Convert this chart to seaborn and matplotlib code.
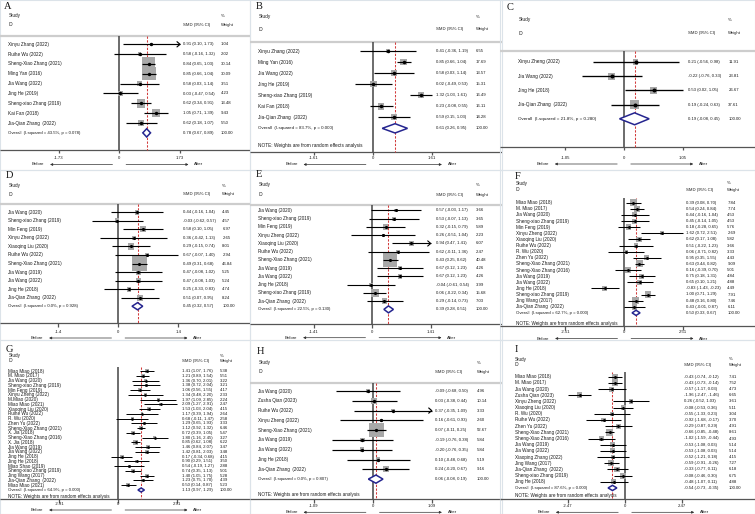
import numpy as np
import pandas as pd
import matplotlib
matplotlib.use("Agg")
import matplotlib.pyplot as plt
from matplotlib.patches import Rectangle
import seaborn as sns

# ------------------------------------------------------------------ data
A_study = ["Xinyu Zhang (2022)", "Ruihe Wu (2022)", "Sheng-Xiao Zhang (2021)", "Ming Yan (2016)",
           "Jia Wang (2022)", "Jing He (2019)", "Sheng-xiao Zhang (2019)", "Kai Fan (2018)",
           "Jia-Qian Zhang  (2022)"]
A_est = [0.91, 0.58, 0.84, 0.85, 0.58, 0.03, 0.62, 1.05, 0.62]
A_lo = [0.10, -0.16, 0.65, 0.66, 0.03, -0.47, 0.34, 0.71, 0.18]
A_hi = [1.73, 1.32, 1.03, 1.04, 1.14, 0.54, 0.91, 1.39, 1.07]
A_wt = [1.04, 2.02, 30.14, 30.09, 3.51, 4.23, 13.48, 9.43, 5.50]
A_overall = [0.78, 0.67, 0.89]
A_het = ["43.5%", "0.078"]
A_tick = 1.73

B_study = ["Xinyu Zhang (2022)", "Ming Yan (2016)", "Jia Wang (2022)", "Jing He (2019)",
           "Sheng-xiao Zhang (2019)", "Kai Fan (2018)", "Jia-Qian Zhang  (2022)"]
B_est = [0.41, 0.85, 0.58, 0.02, 1.32, 0.23, 0.59]
B_lo = [-0.36, 0.66, 0.03, -0.49, 1.03, -0.08, 0.15]
B_hi = [1.19, 1.04, 1.14, 0.53, 1.61, 0.55, 1.03]
B_wt = [6.55, 17.69, 13.57, 15.31, 16.49, 16.11, 14.28]
B_overall = [0.61, 0.26, 0.95]
B_het = ["83.7%", "0.000"]
B_tick = 1.61

C_study = ["Xinyu Zheng (2022)", "Jia Wang (2022)", "Jing He (2018)", "Jia-Qian Zhang  (2022)"]
C_est = [0.21, -0.22, 0.53, 0.19]
C_lo = [-0.56, -0.76, 0.02, -0.24]
C_hi = [0.98, 0.33, 1.05, 0.63]
C_wt = [11.91, 23.81, 26.67, 37.61]
C_overall = [0.19, -0.08, 0.45]
C_het = ["21.8%", "0.280"]
C_tick = 1.05

D_study = ["Jia Wang (2020)", "Sheng-xiao Zhang (2019)", "Min Feng (2019)", "Xinyu Zheng (2022)",
           "Xiaoqing Liu (2020)", "Ruihe Wu (2022)", "Sheng-Xiao Zhang (2021)", "Jia Wang (2019)",
           "Jia Wang (2022)", "Jing He (2018)", "Jia-Qian Zhang  (2022)"]
D_est = [0.44, -0.03, 0.58, 0.36, 0.29, 0.67, 0.49, 0.47, 0.47, 0.25, 0.51]
D_lo = [-0.16, -0.62, 0.10, -0.42, -0.15, -0.07, 0.31, -0.08, -0.08, -0.33, 0.07]
D_hi = [1.04, 0.57, 1.05, 1.13, 0.74, 1.40, 0.68, 1.02, 1.03, 0.83, 0.95]
D_wt = [4.45, 4.57, 6.97, 2.65, 8.01, 2.94, 46.84, 5.25, 5.24, 4.74, 8.24]
D_overall = [0.45, 0.32, 0.57]
D_het = ["0.0%", "0.928"]
D_tick = 1.4

E_study = ["Jia Wang (2020)", "Sheng-xiao Zhang (2019)", "Min Feng (2019)", "Xinyu Zheng (2022)",
           "Xiaoqing Liu (2020)", "Ruihe Wu (2022)", "Sheng-Xiao Zhang (2021)", "Jia Wang (2019)",
           "Jia Wang (2022)", "Jing He (2018)", "Sheng-xiao Zhang (2019)", "Jia-Qian Zhang  (2022)"]
E_est = [0.57, 0.53, 0.32, 0.26, 0.94, 0.62, 0.43, 0.67, 0.67, -0.04, 0.06, 0.29]
E_lo = [-0.03, -0.07, -0.15, -0.51, 0.47, -0.11, 0.25, 0.12, 0.12, -0.61, -0.22, -0.14]
E_hi = [1.17, 1.13, 0.79, 1.04, 1.41, 1.36, 0.62, 1.23, 1.23, 0.54, 0.34, 0.73]
E_wt = [3.66, 3.65, 5.89, 2.23, 6.07, 2.47, 40.48, 4.26, 4.26, 3.99, 15.68, 7.03]
E_overall = [0.39, 0.28, 0.51]
E_het = ["22.5%", "0.130"]
E_tick = 1.41

F_study = ["Miao Miao (2018)", "M. Miao (2017)", "Jia Wang (2020)", "Sheng-xiao Zhang (2019)",
           "Min Feng (2019)", "Xinyu Zheng (2022)", "Xiaoqing Liu (2020)", "Ruihe Wu (2022)",
           "R. Wu (2020)", "Zhen Yu (2022)", "Sheng-Xiao Zhang (2021)", "Sheng-Xiao Zhang (2016)",
           "Jia Wang (2019)", "Jia Wang (2022)", "Jing He (2018)", "Sheng-xiao Zhang (2019)",
           "Jing Wang (2017)", "Jia-Qian Zhang  (2022)"]
F_est = [0.39, 0.54, 0.44, 0.45, 0.18, 1.62, 0.62, 0.51, 0.06, 0.95, 0.63, 0.16, 0.75, 0.65,
         -0.83, 1.00, 0.48, 0.43]
F_lo = [0.08, 0.24, -0.16, -0.14, -0.28, 0.72, 0.17, -0.22, -0.71, 0.35, 0.44, -0.39, 0.18, 0.10,
        -1.43, 0.71, 0.16, -0.01]
F_hi = [0.70, 0.84, 1.04, 1.05, 0.65, 2.51, 1.08, 1.23, 0.82, 1.55, 0.82, 0.70, 1.31, 1.21,
        -0.23, 1.29, 0.80, 0.87]
F_wt = [7.84, 7.74, 4.53, 4.53, 5.76, 2.69, 5.82, 3.66, 3.33, 4.43, 9.09, 5.01, 4.84, 4.88,
        4.49, 7.91, 7.46, 6.11]
F_overall = [0.50, 0.33, 0.67]
F_het = ["62.7%", "0.000"]
F_tick = 2.51

G_study = ["Miao Miao (2018)", "M. Miao (2017)", "Jia Wang (2020)", "Sheng-xiao Zhang (2019)",
           "Min Feng (2019)", "Xinyu Zheng (2022)", "M.Miao (2020)", "Miao Miao (2021)",
           "Xiaoqing Liu (2020)", "Ruihe Wu (2022)", "R. Wu (2020)", "Zhen Yu (2022)",
           "Sheng-Xiao Zhang (2021)", "X. Jia (2018)", "Sheng-Xiao Zhang (2016)", "X. Jia (2018)",
           "Jia Wang (2019)", "Jia Wang (2022)", "Jing He (2018)", "Jing He (2018)",
           "Miao Shao (2019)", "Sheng-xiao Zhang (2019)", "Jing Wang (2017)",
           "Jia-Qian Zhang  (2022)", "Miao Miao (2021)"]
G_est = [1.41, 1.21, 1.36, 1.38, 1.06, 1.34, 1.97, 2.09, 1.53, 1.17, 0.68, 1.29, 1.12, 0.72,
         1.80, 0.85, 1.46, 1.42, 0.17, 0.90, 0.54, 0.74, 1.40, 1.23, 0.50]
G_lo = [1.07, 0.89, 0.70, 0.72, 0.56, 0.48, 1.09, 1.27, 1.03, 0.39, -0.11, 0.65, 0.92, 0.39,
        1.16, 0.62, 0.84, 0.81, -0.34, 0.29, -0.19, 0.35, 1.05, 0.75, 0.14]
G_hi = [1.76, 1.54, 2.01, 2.04, 1.55, 2.20, 2.85, 2.91, 2.04, 1.94, 1.47, 1.93, 1.32, 1.05,
        2.45, 1.08, 2.07, 2.03, 0.68, 1.51, 1.27, 1.13, 1.75, 1.70, 0.87]
G_wt = [5.38, 5.51, 3.22, 3.21, 4.17, 2.33, 2.24, 2.47, 4.15, 2.64, 2.58, 3.33, 6.46, 5.47,
        3.27, 6.22, 3.47, 3.48, 4.15, 3.50, 2.88, 5.01, 5.28, 4.39, 5.23]
G_overall = [1.13, 0.97, 1.29]
G_het = ["64.9%", "0.000"]
G_tick = 2.91

H_study = ["Jia Wang (2020)", "Zusha Qian (2023)", "Ruihe Wu (2022)", "Xinyu Zheng (2022)",
           "Sheng-Xiao Zhang (2021)", "Jia Wang (2019)", "Jia Wang (2022)", "Jing He (2018)",
           "Jia-Qian Zhang  (2022)"]
H_est = [-0.09, 0.03, 0.37, 0.16, 0.07, -0.19, -0.20, 0.10, 0.24]
H_lo = [-0.68, -0.38, -0.35, -0.61, -0.11, -0.76, -0.76, -0.48, -0.20]
H_hi = [0.50, 0.44, 1.09, 0.93, 0.25, 0.38, 0.35, 0.68, 0.67]
H_wt = [4.96, 10.14, 3.33, 2.60, 52.67, 5.84, 5.84, 5.19, 9.16]
H_overall = [0.06, -0.08, 0.19]
H_het = ["0.0%", "0.807"]
H_tick = 1.09

I_study = ["Miao Miao (2018)", "M. Miao (2017)", "Jia Wang (2020)", "Zusha Qian (2023)",
           "Xinyu Zheng (2022)", "Xiaoqing Liu (2020)", "R. Wu (2020)", "Ruihe Wu (2022)",
           "Zhen Yu (2022)", "Sheng-Xiao Zhang (2021)", "Sheng-Xiao Zhang (2016)",
           "Jia Wang (2019)", "Jia Wang (2022)", "Xiaoping Zhang (2022)", "Jing Wang (2017)",
           "Jia-Qian Zhang  (2022)", "Sheng-xiao Zhang (2019)", "Jing He (2018)"]
I_est = [-0.43, -0.43, -0.57, -1.96, 0.26, -0.08, -0.55, -0.92, -0.29, -0.66, -1.02, -0.53,
         -0.53, -0.52, -0.59, -0.33, -0.08, -0.48]
I_lo = [-0.74, -0.73, -1.17, -2.47, -0.52, -0.53, -1.33, -1.68, -0.87, -0.85, -1.59, -1.08,
        -1.08, -1.21, -0.91, -0.77, -0.46, -1.07]
I_hi = [-0.12, -0.14, 0.03, -1.46, 1.03, 0.36, 0.23, -0.17, 0.29, -0.48, -0.44, 0.03, 0.03,
        0.18, -0.26, 0.11, 0.30, 0.11]
I_wt = [7.41, 7.52, 4.73, 6.65, 3.61, 5.11, 3.04, 3.70, 4.91, 8.61, 4.93, 5.14, 5.14, 4.15,
        7.27, 6.18, 6.75, 4.88]
I_overall = [-0.54, -0.73, -0.35]
I_het = ["87.6%", "0.000"]
I_tick = 2.47

NOTE_TEXT = "NOTE: Weights are from random effects analysis"

PANELS = [
    ("A", A_study, A_est, A_lo, A_hi, A_wt, A_overall, A_het, A_tick, False, [0]),
    ("B", B_study, B_est, B_lo, B_hi, B_wt, B_overall, B_het, B_tick, True, []),
    ("C", C_study, C_est, C_lo, C_hi, C_wt, C_overall, C_het, C_tick, False, []),
    ("D", D_study, D_est, D_lo, D_hi, D_wt, D_overall, D_het, D_tick, False, []),
    ("E", E_study, E_est, E_lo, E_hi, E_wt, E_overall, E_het, E_tick, False, [4]),
    ("F", F_study, F_est, F_lo, F_hi, F_wt, F_overall, F_het, F_tick, True, []),
    ("G", G_study, G_est, G_lo, G_hi, G_wt, G_overall, G_het, G_tick, True, []),
    ("H", H_study, H_est, H_lo, H_hi, H_wt, H_overall, H_het, H_tick, True, [2]),
    ("I", I_study, I_est, I_lo, I_hi, I_wt, I_overall, I_het, I_tick, True, []),
]

# ------------------------------------------------------------------ layout (pixels, panel-local)
LAYOUT = {
    "A": dict(x0=0, y0=0, w=250, h=170, zero=119.3, tickpx=180.0, letter=(3.5, 6.5), study_y=15.7,
              id_y=25, hline=35.7, top=35.7, row0=44.3, dy=9.84, note_y=None, axis_y=150, tl_y=158,
              ba_y=164.5, lab_x=8.3, ci_x=182.7, w_x=221, k=2.42, dot=3.4, lw=0.85, fs=3.3),
    "B": dict(x0=250, y0=0, w=252, h=170, zero=122.7, tickpx=181.7, letter=(6, 6.5), study_y=16.7,
              id_y=29.3, hline=41.7, top=41.7, row0=51, dy=11.05, note_y=145.7, axis_y=151.7, tl_y=158,
              ba_y=164.5, lab_x=8.3, ci_x=185.7, w_x=226, k=1.62, dot=3.5, lw=0.85, fs=3.4),
    "C": dict(x0=500, y0=0, w=255, h=170, zero=124.0, tickpx=182.7, letter=(6.7, 7.5), study_y=20,
              id_y=33.3, hline=51, top=51, row0=62, dy=14.2, note_y=None, axis_y=146.7, tl_y=157.7,
              ba_y=164, lab_x=18.3, ci_x=188.3, w_x=228.3, k=1.45, dot=4.0, lw=0.95, fs=3.45),
    "D": dict(x0=0, y0=170, w=250, h=170, zero=118.3, tickpx=178.3, letter=(6, 5.5), study_y=15.7,
              id_y=24.3, hline=34.3, top=34.3, row0=42.3, dy=8.54, note_y=None, axis_y=153.3, tl_y=161.7,
              ba_y=168, lab_x=8.3, ci_x=182.7, w_x=222.3, k=2.19, dot=3.1, lw=0.8, fs=3.3),
    "E": dict(x0=250, y0=170, w=252, h=170, zero=122.3, tickpx=180.7, letter=(6, 4.5), study_y=15,
              id_y=25, hline=35, top=35, row0=40.5, dy=8.24, note_y=None, axis_y=154, tl_y=161.7,
              ba_y=167.7, lab_x=8.3, ci_x=185.7, w_x=226, k=2.09, dot=3.1, lw=0.8, fs=3.3),
    "F": dict(x0=500, y0=170, w=255, h=170, zero=124.3, tickpx=183.3, letter=(15, 6.5), study_y=13.3,
              id_y=20, hline=None, top=28, row0=32.7, dy=6.12, note_y=153.3, axis_y=156, tl_y=162.3,
              ba_y=168.5, lab_x=15.7, ci_x=186, w_x=227.3, k=2.3, dot=2.9, lw=0.75, fs=3.3),
    "G": dict(x0=0, y0=340, w=250, h=174, zero=118.3, tickpx=177.2, letter=(6, 10), study_y=15.7,
              id_y=21, hline=None, top=26.7, row0=31, dy=4.76, note_y=156.7, axis_y=159.3, tl_y=164,
              ba_y=170, lab_x=8.3, ci_x=181.7, w_x=220, k=1.8, dot=2.7, lw=0.7, fs=3.3),
    "H": dict(x0=250, y0=340, w=252, h=174, zero=122.7, tickpx=181.7, letter=(6.7, 11.7), study_y=22.7,
              id_y=31.7, hline=42.7, top=42.7, row0=51, dy=9.79, note_y=154.3, axis_y=159.3, tl_y=165.7,
              ba_y=172.3, lab_x=8.3, ci_x=185, w_x=226.7, k=1.95, dot=3.3, lw=0.85, fs=3.3),
    "I": dict(x0=500, y0=340, w=255, h=174, zero=125.0, tickpx=182.3, letter=(15, 10), study_y=19.3,
              id_y=25, hline=None, top=31.7, row0=36.7, dy=6.18, note_y=156, axis_y=159.3, tl_y=165.7,
              ba_y=172.3, lab_x=15, ci_x=184.3, w_x=229, k=2.3, dot=2.9, lw=0.75, fs=3.3),
}

FIG_W, FIG_H = 755, 514
sns.set_theme(style="white")
plt.rcParams["font.family"] = ["Liberation Sans", "DejaVu Sans"]

FS_COL = 3.05
TXT = "#1a1a1a"
AXC = "#555555"


def fmt_ci(e, l, h):
    return f"{e:.2f} ({l:.2f}, {h:.2f})"


def draw_panel(fig, letter, study, est, lo, hi, wt, overall, het, tick, note, arrows):
    L = LAYOUT[letter]
    FS_LAB = L["fs"]
    w, h = L["w"], L["h"]
    ax = fig.add_axes([L["x0"] / FIG_W, 1 - (L["y0"] + h) / FIG_H, w / FIG_W, h / FIG_H])
    ppu = (L["tickpx"] - L["zero"]) / tick
    X = lambda px: (px - L["zero"]) / ppu
    xl, xr = X(0), X(w)
    n = len(study)
    ys = L["row0"] + L["dy"] * np.arange(n)
    yo = L["row0"] + L["dy"] * n

    df = pd.DataFrame(dict(study=study, est=est, lo=lo, hi=hi, wt=wt, y=ys))
    df["lo_c"] = df["lo"].clip(lower=-tick)
    df["hi_c"] = df["hi"].clip(upper=tick)

    # header separator, zero line, overall dashed line
    if L["hline"] is not None:
        ax.hlines(L["hline"], xl, xr, colors="#cdcdcd", lw=1.6, zorder=1)
    ax.vlines(0, L["top"], L["axis_y"], colors="#444444", lw=1.1, zorder=1)
    ax.plot([overall[0]] * 2, [L["top"], L["axis_y"]], color="#d23c3c", lw=0.75,
            ls=(0, (2.2, 1.4)), zorder=1.5)

    # weight boxes
    wmax = max(wt)
    smax = (0.72 * L["k"]) ** 2 * wmax
    sns.scatterplot(data=df, x="est", y="y", size="wt", sizes=(0, smax), size_norm=(0, wmax),
                    marker="s", color="#a8a8a8", linewidth=0, legend=False, ax=ax, zorder=2)
    # CIs
    ax.hlines(df["y"], df["lo_c"], df["hi_c"], colors="black", lw=L["lw"], zorder=3)
    for i in arrows:
        dx = 3.0 / ppu
        yy = ys[i]
        ax.plot([tick - dx, tick, tick - dx], [yy - 2.6, yy, yy + 2.6], color="black",
                lw=L["lw"], zorder=3)
    # point estimates
    dot_s = (0.72 * L["dot"]) ** 2
    sns.scatterplot(data=df, x="est", y="y", color="black", s=dot_s, linewidth=0,
                    legend=False, ax=ax, zorder=4)
    # overall diamond
    hd = 0.42 * L["dy"]
    ax.fill([overall[1], overall[0], overall[2], overall[0]], [yo, yo - hd, yo, yo + hd],
            facecolor="white", edgecolor="#25258f", lw=1.1, zorder=5)

    # text columns
    for s, e, l, hh, ww, y in zip(study, est, lo, hi, wt, ys):
        ax.text(X(L["lab_x"]), y, s, fontsize=FS_LAB, va="center", ha="left", color=TXT)
        ax.text(X(L["ci_x"]), y, fmt_ci(e, l, hh), fontsize=FS_COL, va="center", ha="left", color=TXT)
        ax.text(X(L["w_x"]), y, f"{ww:.2f}", fontsize=FS_COL, va="center", ha="left", color=TXT)
    ax.text(X(L["lab_x"]), yo, f"Overall  (I-squared = {het[0]}, p = {het[1]})", fontsize=FS_LAB * 0.93,
            va="center", ha="left", color=TXT)
    ax.text(X(L["ci_x"]), yo, fmt_ci(*overall), fontsize=FS_COL, va="center", ha="left", color=TXT)
    ax.text(X(L["w_x"]), yo, "100.00", fontsize=FS_COL, va="center", ha="left", color=TXT)
    if note and L["note_y"] is not None:
        ax.text(X(L["lab_x"]), L["note_y"], NOTE_TEXT, fontsize=FS_LAB, va="center", ha="left", color=TXT)

    # headers
    ax.text(X(L["letter"][0]), L["letter"][1], letter, fontsize=7.5, family="Liberation Serif",
            va="center", ha="left", color="#111111")
    ax.text(X(L["lab_x"]), L["study_y"], "Study", fontsize=FS_LAB, va="center", ha="left", color=TXT)
    ax.text(X(L["lab_x"]), L["id_y"], "ID", fontsize=FS_LAB, va="center", ha="left", color=TXT)
    ax.text(X(L["ci_x"]), L["id_y"], "SMD (95% CI)", fontsize=FS_COL, va="center", ha="left", color=TXT)
    ax.text(X(L["w_x"]), L["study_y"], "%", fontsize=FS_COL, va="center", ha="left", color=TXT)
    ax.text(X(L["w_x"]), L["id_y"], "Weight", fontsize=FS_COL, va="center", ha="left", color=TXT)

    # x axis
    ax.hlines(L["axis_y"], xl, xr, colors=AXC, lw=0.9, zorder=1)
    ticks = [-tick, 0, tick]
    ax.vlines(ticks, L["axis_y"], L["axis_y"] + 3.5, colors=AXC, lw=0.9)
    for t in ticks:
        ax.text(t, L["tl_y"], f"{t:g}", fontsize=FS_COL, va="center", ha="center", color=TXT)

    # Before / After arrows
    z = L["zero"]
    ax.annotate("", xy=(X(z - 72), L["ba_y"]), xytext=(X(z - 4), L["ba_y"]),
                arrowprops=dict(arrowstyle="-|>", color="#333333", lw=0.5, mutation_scale=3.5))
    ax.annotate("", xy=(X(z + 72), L["ba_y"]), xytext=(X(z + 4), L["ba_y"]),
                arrowprops=dict(arrowstyle="-|>", color="#333333", lw=0.5, mutation_scale=3.5))
    ax.text(X(z - 75), L["ba_y"], "Before", fontsize=FS_COL, va="center", ha="right", color=TXT)
    ax.text(X(z + 75), L["ba_y"], "After", fontsize=FS_COL, va="center", ha="left", color=TXT)

    ax.set_xlim(xl, xr)
    ax.set_ylim(h, 0)
    ax.axis("off")
    ax.add_patch(Rectangle((0, 0), 1, 1, transform=ax.transAxes, fill=False, ec="#dce3e9",
                           lw=0.8, clip_on=False, zorder=0))


fig = plt.figure(figsize=(FIG_W / 100, FIG_H / 100), dpi=100)
fig.patch.set_facecolor("white")
for p in PANELS:
    draw_panel(fig, *p)

fig.savefig("out.png", dpi=100, facecolor="white")
